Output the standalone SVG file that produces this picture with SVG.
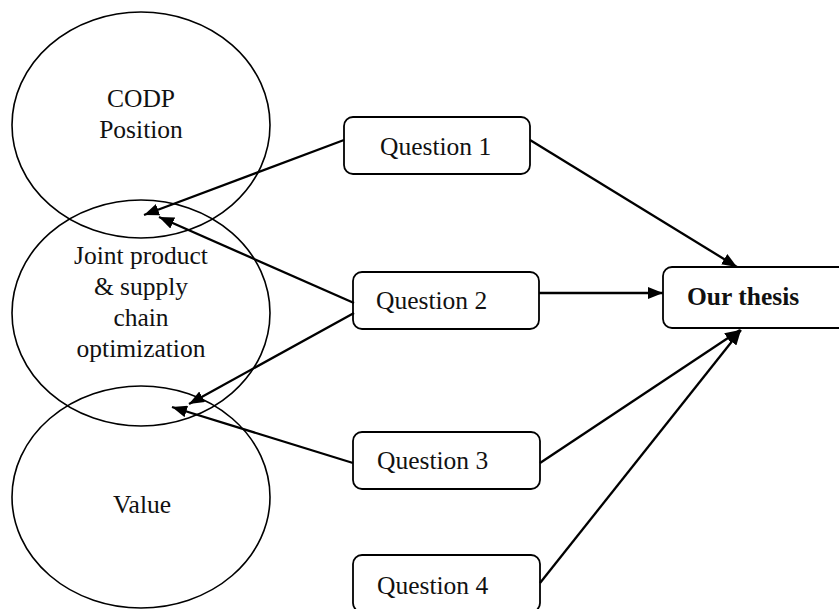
<svg xmlns="http://www.w3.org/2000/svg" width="839" height="609" viewBox="0 0 839 609">
<style>
.ell{fill:none;stroke:#000;stroke-width:1.6}
.box{fill:#fff;stroke:#000;stroke-width:1.8}
.t{font-family:"Liberation Serif","Times New Roman",serif;font-size:25.5px;fill:#111}
.c{text-anchor:middle}
.b{font-weight:bold}
.con{stroke:#000;stroke-width:2.3;fill:none;marker-end:url(#ah)}
</style>
<defs>
<marker id="ah" markerUnits="userSpaceOnUse" markerWidth="16" markerHeight="12" refX="15" refY="6" orient="auto">
<path d="M0,0 L15,6 L0,12 z" fill="#000"/>
</marker>
</defs>
<g id="codp">
<ellipse class="ell" cx="141" cy="125" rx="129" ry="113"/>
<text class="t c" x="141" y="107">CODP</text>
<text class="t c" x="141" y="138">Position</text>
</g>
<g id="joint">
<ellipse class="ell" cx="141" cy="313" rx="129" ry="113"/>
<text class="t c" x="141" y="264">Joint product</text>
<text class="t c" x="141" y="295">&amp; supply</text>
<text class="t c" x="141" y="326">chain</text>
<text class="t c" x="141" y="357">optimization</text>
</g>
<g id="value">
<ellipse class="ell" cx="141" cy="497" rx="129" ry="111"/>
<text class="t c" x="142" y="513">Value</text>
</g>
<g id="q1">
<rect class="box" x="344" y="117" width="186" height="57" rx="9"/>
<text class="t" x="380" y="155">Question 1</text>
</g>
<g id="q2">
<rect class="box" x="353" y="272" width="186" height="57" rx="9"/>
<text class="t" x="376" y="309">Question 2</text>
</g>
<g id="q3">
<rect class="box" x="353" y="432" width="187" height="57" rx="9"/>
<text class="t" x="377" y="469">Question 3</text>
</g>
<g id="q4">
<rect class="box" x="353" y="555" width="187" height="57" rx="9"/>
<text class="t" x="377" y="594">Question 4</text>
</g>
<g id="thesis">
<rect class="box" x="663" y="267" width="190" height="61" rx="9"/>
<text class="t b" x="687" y="305">Our thesis</text>
</g>
<g id="connectors">
<line class="con" x1="344" y1="140" x2="144" y2="215"/>
<line class="con" x1="354" y1="303" x2="159" y2="217"/>
<line class="con" x1="354" y1="313" x2="189" y2="404"/>
<line class="con" x1="353" y1="463" x2="172" y2="407"/>
<line class="con" x1="530" y1="140" x2="737" y2="267"/>
<line class="con" x1="539" y1="293" x2="663" y2="293"/>
<line class="con" x1="540" y1="463" x2="740" y2="330"/>
<line class="con" x1="540" y1="583" x2="741" y2="330"/>
</g>
</svg>
